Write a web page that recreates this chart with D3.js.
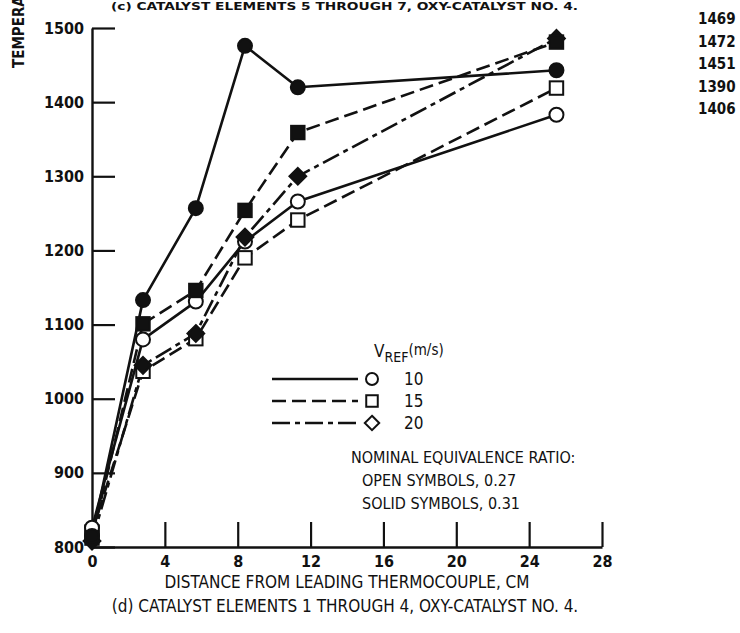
<!DOCTYPE html>
<html>
<head>
<meta charset="utf-8">
<script src="https://cdn.jsdelivr.net/npm/d3@7"></script>
<style>
  html, body { margin: 0; padding: 0; background: #fff; }
  svg { display: block; }
  text { font-family: 'Liberation Sans Narrow', 'DejaVu Sans Condensed', 'Arial Narrow', sans-serif; fill: #111; }
</style>
</head>
<body>
<svg id="chart" width="740" height="633"></svg>
<script>
// ---------- data ----------
const distanceCm = [0, 2.8, 5.7, 8.4, 11.3, 25.5];
const xTicks = [0, 4, 8, 12, 16, 20, 24, 28];
const yTicks = [800, 900, 1000, 1100, 1200, 1300, 1400, 1500];

const solidCircle10 = [815, 1133, 1257, 1476, 1420, 1443];
const solidSquare15 = [812, 1101, 1146, 1254, 1359, 1481];
const solidDiamond20 = [808, 1045, 1088, 1218, 1300, 1486];
const openCircle10 = [826, 1080, 1131, 1212, 1266, 1383];
const openSquare15 = [820, 1037, 1081, 1190, 1241, 1419];

const legendSpeeds = ["10", "15", "20"];
const sideValues = ["1469", "1472", "1451", "1390", "1406"];

const topTitle = "(c) CATALYST ELEMENTS 5 THROUGH 7, OXY-CATALYST NO. 4.";
const yTitle = "TEMPERATURE, K";
const xTitle = "DISTANCE FROM LEADING THERMOCOUPLE, CM";
const caption = "(d) CATALYST ELEMENTS 1 THROUGH 4, OXY-CATALYST NO. 4.";
const noteLines = ["NOMINAL EQUIVALENCE RATIO:", "OPEN SYMBOLS, 0.27", "SOLID SYMBOLS, 0.31"];

// ---------- styles ----------
const dashSolid = null;
const dashDashed = "14,6";
const dashDot = "18,5,5,5";

const series = [
  { values: openSquare15, shape: "square", filled: false, dash: dashDashed },
  { values: openCircle10, shape: "circle", filled: false, dash: dashSolid },
  { values: solidDiamond20, shape: "diamond", filled: true, dash: dashDot },
  { values: solidSquare15, shape: "square", filled: true, dash: dashDashed },
  { values: solidCircle10, shape: "circle", filled: true, dash: dashSolid },
];

const svg = d3.select("#chart");
const x = d3.scaleLinear().domain([0, 28]).range([92, 602]);
const y = d3.scaleLinear().domain([800, 1500]).range([547, 28]);

// axes
const gx = svg.append("g").attr("transform", `translate(0,${y(800)})`)
  .call(d3.axisBottom(x).tickValues(xTicks).tickSizeInner(-25).tickSizeOuter(0).tickPadding(9).tickFormat(d3.format("d")));
const gy = svg.append("g").attr("transform", `translate(${x(0)},0)`)
  .call(d3.axisLeft(y).tickValues(yTicks).tickSizeInner(-23).tickSizeOuter(0).tickPadding(8).tickFormat(d3.format("d")));
[gx, gy].forEach(g => {
  g.selectAll("path.domain").attr("stroke", "#111").attr("stroke-width", 2.4);
  g.selectAll(".tick line").attr("stroke", "#111").attr("stroke-width", 2.2);
  g.selectAll(".tick text").attr("font-size", 16).attr("font-weight", "bold")
    .attr("font-family", "'Liberation Sans Narrow', 'DejaVu Sans Condensed', sans-serif").attr("fill", "#111");
});
gx.selectAll(".tick").filter(d => d === 0).select("line").remove();

// symbol drawing
function drawSymbol(g, shape, filled, cx, cy, s) {
  const fill = filled ? "#111" : "#fff";
  if (shape === "circle") {
    g.append("circle").attr("cx", cx).attr("cy", cy).attr("r", s * 0.5)
      .attr("fill", fill).attr("stroke", "#111").attr("stroke-width", 2);
  } else if (shape === "square") {
    g.append("rect").attr("x", cx - s * 0.48).attr("y", cy - s * 0.48)
      .attr("width", s * 0.96).attr("height", s * 0.96)
      .attr("fill", fill).attr("stroke", "#111").attr("stroke-width", 2);
  } else {
    const r = s * 0.6;
    g.append("path").attr("d", `M${cx},${cy - r}L${cx + r},${cy}L${cx},${cy + r}L${cx - r},${cy}Z`)
      .attr("fill", fill).attr("stroke", "#111").attr("stroke-width", 2);
  }
}

const line = d3.line().x((d, i) => x(distanceCm[i])).y(d => y(d));
const gl = svg.append("g");
series.forEach(s => {
  gl.append("path").datum(s.values).attr("d", line)
    .attr("fill", "none").attr("stroke", "#111").attr("stroke-width", 2.6)
    .attr("stroke-dasharray", s.dash).attr("stroke-linejoin", "round");
});
const gm = svg.append("g");
series.forEach(s => {
  s.values.forEach((v, i) => drawSymbol(gm, s.shape, s.filled, x(distanceCm[i]), y(v), 14));
});

// legend
const lg = svg.append("g");
const vt = lg.append("text").attr("x", 374).attr("y", 357).attr("font-size", 17);
vt.append("tspan").text("V");
vt.append("tspan").attr("font-size", 14).attr("dy", 5).text("REF");
vt.append("tspan").attr("font-size", 15).attr("dy", -7).text("(m/s)");
const legendDash = [dashSolid, dashDashed, dashDot];
const legendShape = ["circle", "square", "diamond"];
legendSpeeds.forEach((sp, i) => {
  const yy = 379 + i * 22;
  lg.append("line").attr("x1", 272).attr("x2", 358).attr("y1", yy).attr("y2", yy)
    .attr("stroke", "#111").attr("stroke-width", 2.6).attr("stroke-dasharray", legendDash[i]);
  drawSymbol(lg, legendShape[i], false, 372, yy, 12);
  lg.append("text").attr("x", 404).attr("y", yy + 6).attr("font-size", 17).text(sp);
});
noteLines.forEach((t, i) => {
  lg.append("text").attr("x", i === 0 ? 351 : 362).attr("y", 463 + i * 23)
    .attr("font-size", 16).text(t);
});

// right side values
sideValues.forEach((t, i) => {
  svg.append("text").attr("x", 698).attr("y", 24 + i * 22.5).attr("font-size", 15)
    .attr("font-weight", "bold").text(t);
});

// titles
svg.append("text").attr("x", 111).attr("y", 10).attr("font-size", 11).attr("font-weight", "bold")
  .attr("textLength", 467).attr("lengthAdjust", "spacingAndGlyphs").text(topTitle);
svg.append("text").attr("transform", "translate(24,68) rotate(-90)").attr("font-size", 15)
  .attr("font-weight", "bold").text(yTitle);
svg.append("text").attr("x", 347).attr("y", 588).attr("text-anchor", "middle").attr("font-size", 17)
  .text(xTitle);
svg.append("text").attr("x", 345).attr("y", 612).attr("text-anchor", "middle").attr("font-size", 17)
  .text(caption);
</script>
</body>
</html>
